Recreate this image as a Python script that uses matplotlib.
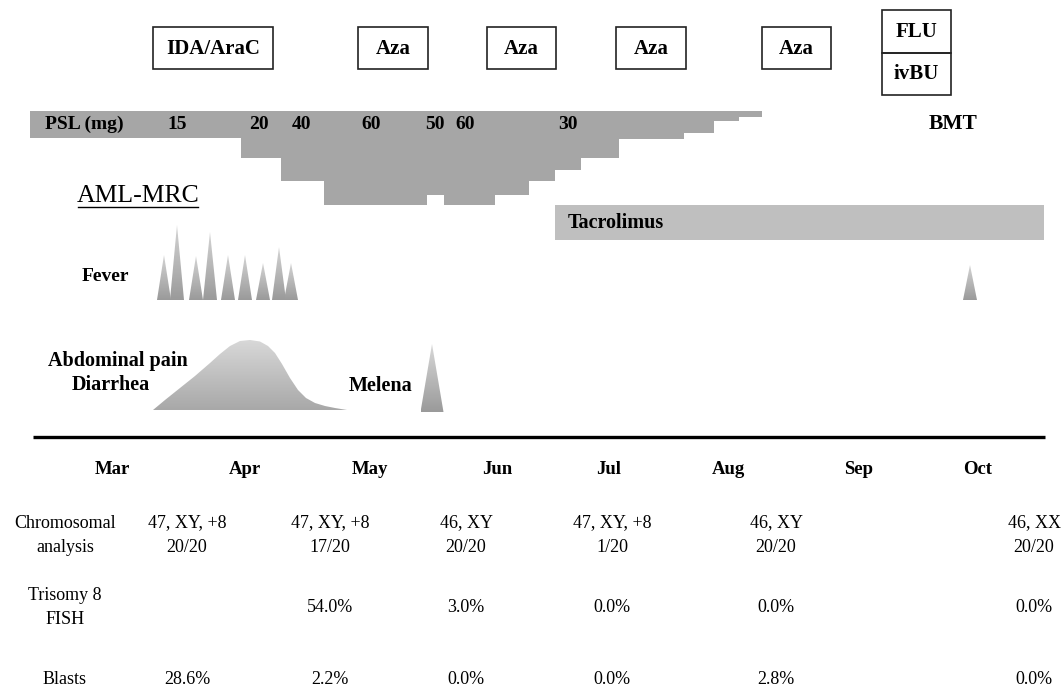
import numpy as np
import matplotlib
matplotlib.use("Agg")
import matplotlib.pyplot as plt
from matplotlib.patches import Polygon, Rectangle
from matplotlib.colors import LinearSegmentedColormap

plt.rcParams['font.family'] = ['Liberation Serif', 'DejaVu Serif']

# ---------------- data ----------------
months = ["Mar", "Apr", "May", "Jun", "Jul", "Aug", "Sep", "Oct"]
month_pos = [112, 245, 370, 497, 609, 728, 859, 978]

regimen_labels = ["IDA/AraC", "Aza", "Aza", "Aza", "Aza"]
regimen_start = [153, 358, 487, 616, 762]
regimen_end = [273, 428, 556, 686, 831]
conditioning_labels = ["FLU", "ivBU"]
conditioning_span = [882, 951]

# PSL dose staircase (time breakpoints and band depth)
psl_edges = [30, 241, 281, 324, 427, 444, 495, 529, 555, 581, 619, 684, 714, 739, 762]
psl_depth = [26.5, 46.5, 70, 94, 83.5, 94, 83.5, 70, 59, 46.5, 28, 22.3, 10.3, 6.3]
psl_dose_labels = ["15", "20", "40", "60", "50", "60", "30"]
psl_dose_pos = [177, 259, 302, 371, 435, 465, 568]

tacrolimus_span = [555, 1044]

# fever spikes: time of peak and height
fever_t = [164, 177, 196, 210, 228, 245, 263, 279, 291, 970]
fever_h = [45, 75, 44, 68, 45, 45, 37, 53, 37, 35]

# abdominal pain / diarrhea intensity
abd_t = [153, 165, 180, 195, 210, 220, 230, 240, 250, 260, 268, 275, 282, 290, 298, 306, 315, 325, 335, 347]
abd_h = [0, 10, 22, 34, 47, 56, 64, 69, 70, 68.5, 64, 57, 46, 32, 20, 12, 7, 4, 2, 0]

# melena
melena_t = 432
melena_h = 68

# table rows
chrom_pos = [187, 330, 466, 612, 776, 1034]
chrom_karyo = ["47, XY, +8", "47, XY, +8", "46, XY", "47, XY, +8", "46, XY", "46, XX"]
chrom_count = ["20/20", "17/20", "20/20", "1/20", "20/20", "20/20"]
fish_pos = [330, 466, 612, 776, 1034]
fish_vals = ["54.0%", "3.0%", "0.0%", "0.0%", "0.0%"]
blast_pos = [187, 330, 466, 612, 776, 1034]
blast_vals = ["28.6%", "2.2%", "0.0%", "0.0%", "2.8%", "0.0%"]

# ---------------- figure ----------------
fig = plt.figure(figsize=(10.63, 6.91), dpi=100)
ax = fig.add_axes([0, 0, 1, 1])


def grad_fill(xs, ys, c_top, c_bot):
    poly = Polygon(np.column_stack([xs, ys]), closed=True, facecolor='none', edgecolor='none')
    ax.add_patch(poly)
    grad = np.linspace(0, 1, 256)[:, None]
    cmap = LinearSegmentedColormap.from_list('g', [c_top, c_bot])
    im = ax.imshow(grad, extent=[min(xs), max(xs), max(ys), min(ys)], cmap=cmap,
                   aspect='auto', origin='upper', zorder=2, interpolation='bilinear')
    im.set_clip_path(poly)


# regimen boxes
box_top, box_bot = 27, 69
for lab, s, e in zip(regimen_labels, regimen_start, regimen_end):
    ax.add_patch(Rectangle((s, box_top), e - s, box_bot - box_top, fill=False,
                           edgecolor='#222222', lw=1.2, zorder=3))
    ax.text((s + e) / 2, (box_top + box_bot) / 2 + 1, lab, ha='center', va='center',
            fontsize=15, fontweight='bold')

c0, c1 = conditioning_span
for i, lab in enumerate(conditioning_labels):
    y0 = 10 + i * 42.5
    ax.add_patch(Rectangle((c0, y0), c1 - c0, 42.5, fill=False,
                           edgecolor='#222222', lw=1.2, zorder=3))
    ax.text((c0 + c1) / 2, y0 + 21.5, lab, ha='center', va='center',
            fontsize=15, fontweight='bold')
ax.text(953, 124, "BMT", ha='center', va='center', fontsize=15.5, fontweight='bold')

# PSL staircase
psl_top = 111
ax.stairs(np.array(psl_depth) + psl_top, psl_edges, baseline=psl_top, fill=True,
          color='#a6a6a6', zorder=2)
ax.text(45, 124, "PSL (mg)", ha='left', va='center', fontsize=14, fontweight='bold', zorder=4)
for lab, x in zip(psl_dose_labels, psl_dose_pos):
    ax.text(x, 124, lab, ha='center', va='center', fontsize=14, fontweight='bold', zorder=4)

# AML-MRC
ax.text(138, 196, "AML-MRC", ha='center', va='center', fontsize=18.5)
ax.plot([78, 198], [207, 207], color='black', lw=1.0)

# Tacrolimus
ax.add_patch(Rectangle((tacrolimus_span[0], 205), tacrolimus_span[1] - tacrolimus_span[0], 35,
                       facecolor='#bfbfbf', edgecolor='none', zorder=2))
ax.text(568, 223, "Tacrolimus", ha='left', va='center', fontsize=14.5, fontweight='bold', zorder=4)

# Fever
fever_base = 300
ax.text(105, 276, "Fever", ha='center', va='center', fontsize=14, fontweight='bold')
for t, h in zip(fever_t, fever_h):
    grad_fill([t - 7, t, t + 7], [fever_base, fever_base - h, fever_base], '#d4d4d4', '#9a9a9a')

# Abdominal pain / diarrhea
abd_base = 410
ax.text(118, 361, "Abdominal pain", ha='center', va='center', fontsize=14.5, fontweight='bold')
ax.text(111, 385, "Diarrhea", ha='center', va='center', fontsize=14.5, fontweight='bold')
grad_fill(abd_t, [abd_base - h for h in abd_h], '#d8d8d8', '#a8a8a8')

# Melena
ax.text(381, 386, "Melena", ha='center', va='center', fontsize=14.5, fontweight='bold')
grad_fill([melena_t - 11.5, melena_t, melena_t + 11.5],
          [412, 412 - melena_h, 412], '#d8d8d8', '#9a9a9a')

# Timeline axis line
ax.plot([33, 1045], [437, 437], color='black', lw=2.4, solid_capstyle='butt')
for m, x in zip(months, month_pos):
    ax.text(x, 469, m, ha='center', va='center', fontsize=13.5, fontweight='bold')

# Table
lab_x = 65
ax.text(lab_x, 523, "Chromosomal", ha='center', va='center', fontsize=13)
ax.text(lab_x, 547, "analysis", ha='center', va='center', fontsize=13)
for x, k, c in zip(chrom_pos, chrom_karyo, chrom_count):
    ax.text(x, 523, k, ha='center', va='center', fontsize=13)
    ax.text(x, 547, c, ha='center', va='center', fontsize=13)

ax.text(lab_x, 596, "Trisomy 8", ha='center', va='center', fontsize=13)
ax.text(lab_x, 620, "FISH", ha='center', va='center', fontsize=13)
for x, v in zip(fish_pos, fish_vals):
    ax.text(x, 608, v, ha='center', va='center', fontsize=13)

ax.text(lab_x, 680, "Blasts", ha='center', va='center', fontsize=13)
for x, v in zip(blast_pos, blast_vals):
    ax.text(x, 680, v, ha='center', va='center', fontsize=13)

ax.set_xlim(0, 1063)
ax.set_ylim(691, 0)
ax.axis('off')
fig.savefig("out.png", dpi=100)
